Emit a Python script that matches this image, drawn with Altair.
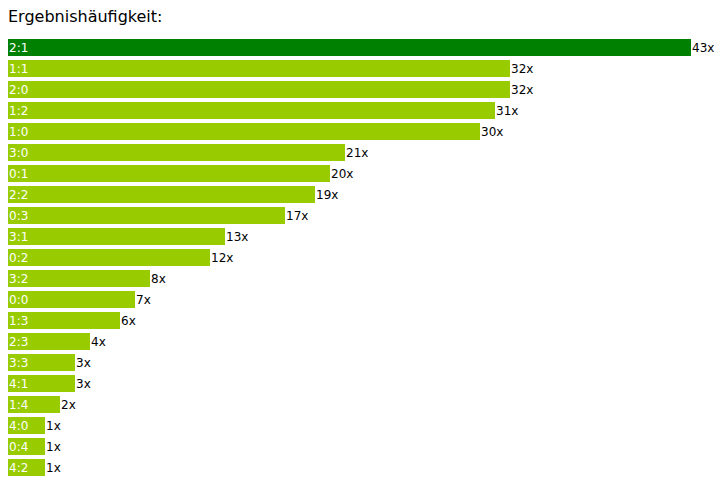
import altair as alt
import pandas as pd

results = ["2:1", "1:1", "2:0", "1:2", "1:0", "3:0", "0:1", "2:2", "0:3", "3:1", "0:2",
           "3:2", "0:0", "1:3", "2:3", "3:3", "4:1", "1:4", "4:0", "0:4", "4:2"]
counts = [43, 32, 32, 31, 30, 21, 20, 19, 17, 13, 12, 8, 7, 6, 4, 3, 3, 2, 1, 1, 1]
highlight = ["2:1"]

df = pd.DataFrame({"result": results, "count": counts})
df["label"] = df["count"].astype(str) + "x"
df["top"] = df["result"].isin(highlight)

FONT = "DejaVu Sans"
XMIN = -22 / 15

x_scale = alt.Scale(domain=[XMIN, 32, 43], range=[0, 502, 683], zero=False, nice=False)
y_scale = alt.Scale(domain=results, paddingInner=4 / 21, paddingOuter=0)

base = alt.Chart(df).encode(
    y=alt.Y("result:N", scale=y_scale, axis=None, sort=results),
)

bars = base.mark_bar().encode(
    x=alt.X("count:Q", scale=x_scale, axis=None),
    x2=alt.X2(datum=XMIN),
    color=alt.Color("top:N", scale=alt.Scale(domain=[True, False], range=["#008000", "#99CC00"]), legend=None),
)

cat_labels = base.mark_text(align="left", baseline="middle", font=FONT, fontSize=12,
                            color="white", dx=1, dy=0.5).encode(
    x=alt.value(0),
    text="result:N",
)

val_labels = base.mark_text(align="left", baseline="middle", font=FONT, fontSize=12,
                            color="black", dx=1, dy=0.5).encode(
    x=alt.X("count:Q", scale=x_scale, axis=None),
    text="label:N",
)

chart = alt.layer(bars, cat_labels, val_labels).properties(
    width=707,
    height=437,
    title=alt.TitleParams("Ergebnishäufigkeit:", anchor="start", frame="group", font=FONT,
                          fontSize=16, fontWeight="normal", color="black", offset=-2,
                          baseline="bottom"),
    autosize="none",
    padding={"left": 0, "top": 31, "right": 0, "bottom": 0},
    background="white",
).configure_view(stroke=None)

chart.save("out.html", embed_options={"renderer": "svg", "actions": False})
